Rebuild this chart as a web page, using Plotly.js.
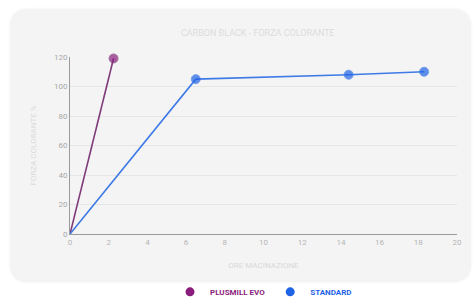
<!DOCTYPE html>
<html>
<head>
<meta charset="utf-8">
<script src="https://cdn.plot.ly/plotly-3.0.1.min.js"></script>
<style>
  html, body { margin: 0; padding: 0; background: #ffffff; }
  #card { position: absolute; left: 10px; top: 9px; width: 461px; height: 273px;
          background: #f4f4f4; border-radius: 16px; box-shadow: 0 0 3px rgba(0,0,0,0.06); }
  #chart { position: absolute; left: 0; top: 0; width: 473px; height: 297px; }
</style>
</head>
<body>
<div id="card"></div>
<div id="chart"></div>
<script>
const chartTitle = "CARBON BLACK - FORZA COLORANTE";
const xTitle = "ORE MACINAZIONE";
const yTitle = "FORZA COLORANTE %";

const plusmillName = "PLUSMILL EVO";
const plusmillHours = [0, 2.25];
const plusmillValues = [0, 119];

const standardName = "STANDARD";
const standardHours = [0, 6.5, 14.4, 18.3];
const standardValues = [0, 105, 108, 110];

const purple = "#8a1c7c";
const blue = "#1f63e6";

const traces = [
  {
    x: plusmillHours, y: plusmillValues, mode: "lines+markers", showlegend: false,
    line: {color: "#7f3a7a", width: 1.6},
    marker: {color: purple, size: [0, 9]},
    cliponaxis: false, hoverinfo: "skip"
  },
  {
    x: standardHours, y: standardValues, mode: "lines+markers", showlegend: false,
    line: {color: "#3f7be6", width: 1.6},
    marker: {color: blue, size: [0, 9, 9, 9]},
    cliponaxis: false, hoverinfo: "skip"
  },
  {
    x: [null], y: [null], mode: "markers", name: "<b><span style='color:" + purple + "'>" + plusmillName + "</span></b>",
    marker: {color: purple, size: 9}
  },
  {
    x: [null], y: [null], mode: "markers", name: "<b><span style='color:" + blue + "'>" + standardName + "</span></b>",
    marker: {color: blue, size: 9}
  }
];

const layout = {
  width: 473, height: 297,
  margin: {l: 70, r: 16, t: 57, b: 63, autoexpand: false},
  paper_bgcolor: "rgba(0,0,0,0)",
  plot_bgcolor: "rgba(0,0,0,0)",
  font: {family: "Roboto, sans-serif", size: 8, color: "#b8b8b8"},
  title: {text: chartTitle, font: {size: 9, color: "#dcdcdc"}, x: 0.545, xanchor: "center", y: 0.888, yanchor: "middle"},
  xaxis: {
    range: [0, 20], dtick: 2, tick0: 0,
    showgrid: false, zeroline: false,
    showline: true, linecolor: "#9a9a9a", linewidth: 1,
    ticks: "", tickfont: {size: 8, color: "#b5b5b5"},
    title: {text: xTitle, font: {size: 8, color: "#d8d8d8"}, standoff: 16}
  },
  yaxis: {
    range: [0, 120], dtick: 20, tick0: 0,
    showgrid: true, gridcolor: "#e6e6e6", gridwidth: 1, zeroline: false,
    showline: true, linecolor: "#9a9a9a", linewidth: 1,
    ticks: "", tickfont: {size: 8, color: "#a8a8a8"},
    title: {text: yTitle, font: {size: 8, color: "#dadada"}, standoff: 16}
  },
  showlegend: true,
  legend: {orientation: "h", x: 0.5, xanchor: "center", y: -0.245, yanchor: "top",
           font: {size: 8}, itemwidth: 30, bgcolor: "rgba(0,0,0,0)", tracegroupgap: 0}
};

Plotly.newPlot("chart", traces, layout, {displayModeBar: false, staticPlot: true});
</script>
</body>
</html>
